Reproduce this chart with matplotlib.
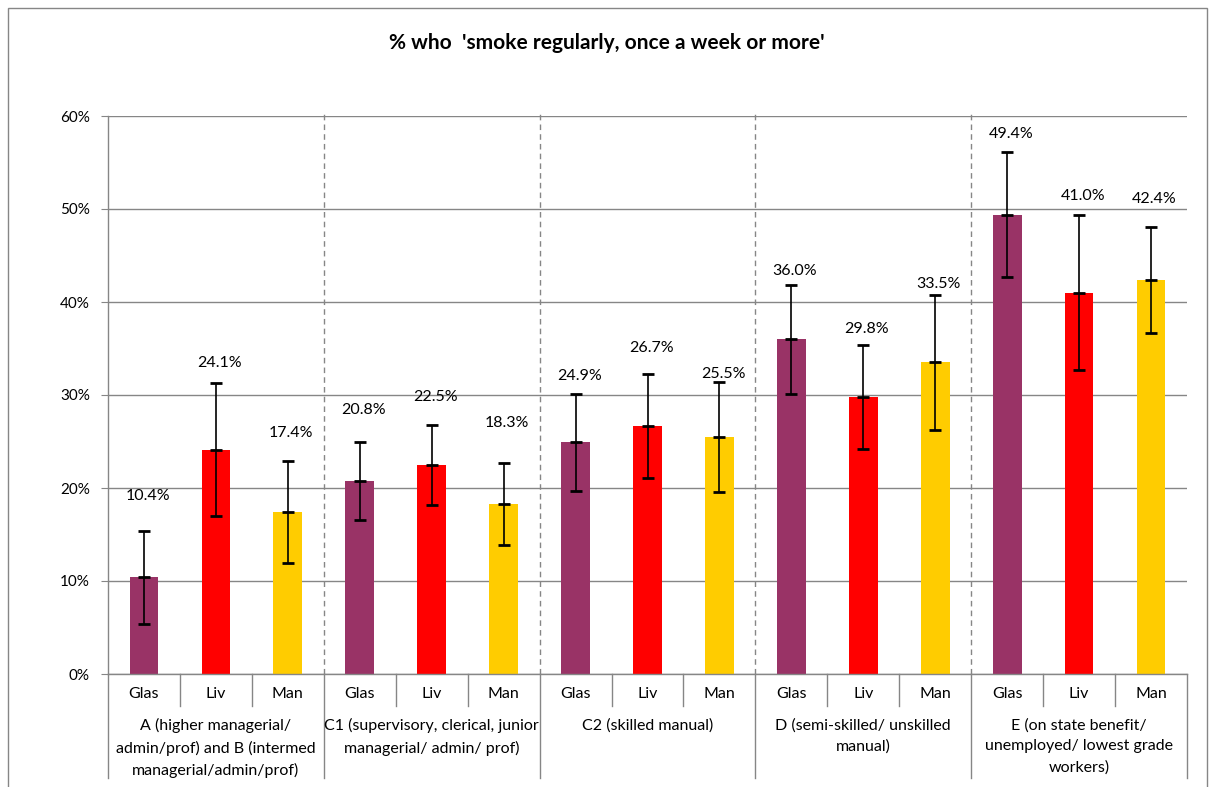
import matplotlib.pyplot as plt
from matplotlib.patches import Rectangle
import numpy as np

plt.rcParams['font.family'] = ['Lato', 'DejaVu Sans']

groups = ['A (higher managerial/\nadmin/prof) and B (intermed\nmanagerial/admin/prof)',
          'C1 (supervisory, clerical, junior\nmanagerial/ admin/ prof)',
          'C2 (skilled manual)',
          'D (semi-skilled/ unskilled\nmanual)',
          'E (on state benefit/\nunemployed/ lowest grade\nworkers)']
cities = ['Glas', 'Liv', 'Man']
values = [10.4, 24.1, 17.4,
          20.8, 22.5, 18.3,
          24.9, 26.7, 25.5,
          36.0, 29.8, 33.5,
          49.4, 41.0, 42.4]
errors = [5.0, 7.15, 5.5,
          4.2, 4.3, 4.4,
          5.25, 5.6, 5.95,
          5.85, 5.6, 7.3,
          6.75, 8.35, 5.7]
# label heights above each bar value (percentage points), as placed in the original
label_offsets = [8.7, 9.3, 8.5,
                 7.6, 7.3, 8.7,
                 7.1, 8.4, 6.8,
                 7.3, 7.3, 8.4,
                 8.7, 10.4, 8.7]
colors = {'Glas': '#993366', 'Liv': '#FF0000', 'Man': '#FFCC00'}

fig = plt.figure(figsize=(12.11, 7.87), dpi=100)
ax = fig.add_axes([108 / 1211, 1 - 674 / 787, (1187 - 108) / 1211, (674 - 116) / 787])

x = np.arange(len(values))
bar_colors = [colors[cities[i % 3]] for i in range(len(values))]
ax.bar(x, values, 0.4, color=bar_colors, zorder=2)
ax.errorbar(x, values, yerr=errors, fmt='_', color='black', markersize=9, mew=2,
            ecolor='black', elinewidth=1.2, capsize=4.5, capthick=2, zorder=3)

for xi, v, off in zip(x, values, label_offsets):
    ax.text(xi + 0.05, v + off, '{:.1f}%'.format(v), ha='center', va='center', fontsize=11.5)

ax.set_xlim(-0.5, len(values) - 0.5)
ax.set_ylim(0, 60)
ax.set_yticks(range(0, 61, 10))
ax.set_yticklabels(['{}%'.format(t) for t in range(0, 61, 10)], fontsize=11)
ax.tick_params(axis='y', length=5, color='#868686', pad=8)
ax.tick_params(axis='x', length=0, labelbottom=False)
ax.yaxis.grid(True, color='#868686', lw=1, zorder=0)
ax.set_axisbelow(True)
for s in ['top', 'right']:
    ax.spines[s].set_visible(False)
for s in ['left', 'bottom']:
    ax.spines[s].set_color('#868686')
    ax.spines[s].set_linewidth(1)

# dashed group separators inside plot
for b in np.arange(2.5, len(values) - 1, 3):
    ax.axvline(b, ymin=0, ymax=1.006, color='#868686', ls=(0, (4, 3)), lw=1, clip_on=False, zorder=1)

# category axis below
trans = ax.get_xaxis_transform()
h = 674 - 116
for i in range(len(values) + 1):
    b = i - 0.5
    bottom = 778 if i % 3 == 0 else 706
    ax.plot([b, b], [0, -(bottom - 674) / h], color='#868686', lw=1,
            transform=trans, clip_on=False)
for i in range(len(values)):
    ax.text(i, -(694 - 674) / h, cities[i % 3], transform=trans,
            ha='center', va='center', fontsize=11.5)
for g, name in enumerate(groups):
    ax.text(3 * g + 1, -(718 - 674) / h, name, transform=trans, ha='center', va='top',
            fontsize=11.5, linespacing=1.62)

fig.text(607 / 1211, 1 - 43 / 787, "% who  'smoke regularly, once a week or more'",
         ha='center', va='center', fontsize=15, fontweight='bold')

fig.patches.append(Rectangle((8 / 1211, -0.01), (1207 - 8) / 1211, 1 - 8 / 787 + 0.01,
                             transform=fig.transFigure, fill=False, edgecolor='#868686', lw=1))

fig.savefig('out.png', dpi=100)
